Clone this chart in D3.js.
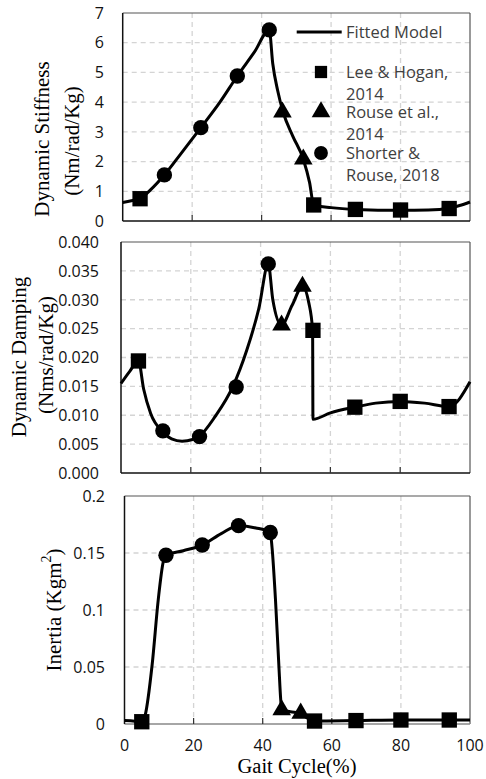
<!DOCTYPE html>
<html><head><meta charset="utf-8">
<script src="https://cdn.jsdelivr.net/npm/d3@7"></script>
<style>
body{margin:0;background:#fff}
svg{display:block}
.tick-label{font-family:"Open Sans",sans-serif;font-size:16px;fill:#111}
.axis-title{font-family:"Liberation Serif","Times New Roman",serif;font-size:21px;fill:#000}
.legend-text{font-family:"Open Sans",sans-serif;font-size:16.5px;fill:#404040}
</style>
</head><body>
<svg id="chart" width="486" height="779"></svg>
<script>
// ---- Gait-cycle positions (%) of the reference measurements ----
const leeX = [5, 55, 67, 80, 94];          // Lee & Hogan, 2014
const rouseX = [46, 52];                   // Rouse et al., 2014
const shorterX = [12, 22.5, 33, 42.2];     // Shorter & Rouse, 2018
const inertiaRouseX = [45.5, 51];

// ---- Dynamic stiffness (Nm/rad/Kg) ----
const stiffLee = [0.75, 0.54, 0.39, 0.37, 0.42];
const stiffRouse = [3.66, 2.08];
const stiffShorter = [1.55, 3.14, 4.88, 6.43];
const stiffFitX = [0, 2.5, 5, 8, 12, 17, 22.5, 28, 33, 38, 42.2, 43.2, 44.6, 46.2, 49, 52, 53.8, 55, 60, 67, 80, 88, 94, 97, 100];
const stiffFitY = [0.62, 0.68, 0.75, 1.05, 1.55, 2.3, 3.14, 4.0, 4.88, 5.7, 6.43, 5.3, 4.4, 3.66, 2.85, 2.08, 1.3, 0.54, 0.45, 0.39, 0.36, 0.37, 0.43, 0.52, 0.64];

// ---- Dynamic damping (Nms/rad/Kg) ----
const dampLee = [0.0194, 0.0247, 0.0114, 0.0124, 0.0115];
const dampRouse = [0.0256, 0.0323];
const dampShorter = [0.0073, 0.0063, 0.0149, 0.0362];
const dampFitX = [0, 2.5, 5, 6.5, 8.5, 12, 14.5, 17.5, 20.5, 22.5, 27, 32, 36, 39.5, 42.2, 43.5, 46, 49, 52, 53.8, 54.9, 55, 60, 67, 73, 80, 87, 94, 100];
const dampFitY = [0.0155, 0.0176, 0.0194, 0.0145, 0.0103, 0.0071, 0.0059, 0.0055, 0.0058, 0.0064, 0.0098, 0.0149, 0.0212, 0.0285, 0.0362, 0.030, 0.0256, 0.029, 0.0323, 0.0295, 0.0247, 0.0093, 0.0104, 0.0114, 0.0121, 0.0124, 0.0121, 0.0115, 0.0158];

// ---- Inertia (Kgm^2) ----
const inerLee = [0.002, 0.0026, 0.003, 0.0035, 0.0035];
const inerRouse = [0.0123, 0.0094];
const inerShorter = [0.148, 0.157, 0.174, 0.168];
const inerFitX = [0, 3, 5, 6, 8, 9.8, 11.2, 12, 17, 22.5, 28, 33, 38, 42.2, 42.7, 43.7, 44.7, 45.2, 45.5, 48, 51, 53, 55, 67, 80, 94, 100];
const inerFitY = [0.003, 0.0025, 0.002, 0.008, 0.052, 0.110, 0.142, 0.148, 0.152, 0.157, 0.167, 0.174, 0.172, 0.168, 0.155, 0.109, 0.05, 0.022, 0.0123, 0.0108, 0.0094, 0.005, 0.0026, 0.003, 0.0035, 0.0035, 0.0035];

// ---- Axis ticks ----
const xTicks = [0, 20, 40, 60, 80, 100];
const stiffTicks = [0, 1, 2, 3, 4, 5, 6, 7];
const dampTicks = [0, 0.005, 0.01, 0.015, 0.02, 0.025, 0.03, 0.035, 0.04];
const inerTicks = [0, 0.05, 0.1, 0.15, 0.2];
const inerTickLabels = ["0", "0.05", "0.1", "0.15", "0.2"];

// ---- Legend ----
const legendLines = [
  ["Lee & Hogan,", "2014"],
  ["Rouse et al.,", "2014"],
  ["Shorter &", "Rouse, 2018"]
];

const svg = d3.select("#chart");

function drawPanel(p) {
  const x = d3.scaleLinear().domain([0, 100]).range([p.left, p.right]);
  const y = d3.scaleLinear().domain([0, p.ymax]).range([p.bottom, p.top]);
  const g = svg.append("g");

  // dashed grid
  g.selectAll(".hg").data(p.ticks.filter(t => t > 0 && t < p.ymax)).join("line")
    .attr("x1", p.left).attr("x2", p.right)
    .attr("y1", d => y(d)).attr("y2", d => y(d))
    .attr("stroke", "#d4d4d4").attr("stroke-width", 1.3).attr("stroke-dasharray", "5,4");
  g.selectAll(".vg").data(xTicks.filter(t => t > 0 && t < 100)).join("line")
    .attr("x1", d => x(d)).attr("x2", d => x(d))
    .attr("y1", p.top).attr("y2", p.bottom)
    .attr("stroke", "#d4d4d4").attr("stroke-width", 1.3).attr("stroke-dasharray", "5,4");

  // frame
  g.append("line").attr("x1", p.left).attr("x2", p.right).attr("y1", p.top).attr("y2", p.top)
    .attr("stroke", "#555").attr("stroke-width", 1.2);
  g.append("line").attr("x1", p.right).attr("x2", p.right).attr("y1", p.top).attr("y2", p.bottom)
    .attr("stroke", "#555").attr("stroke-width", 1.2);
  g.append("line").attr("x1", p.left).attr("x2", p.right).attr("y1", p.bottom).attr("y2", p.bottom)
    .attr("stroke", p.bottomColor).attr("stroke-width", 1.5);
  g.append("line").attr("x1", p.left).attr("x2", p.left).attr("y1", p.top).attr("y2", p.bottom)
    .attr("stroke", "#111").attr("stroke-width", 1.5);

  // x tick marks (inside)
  g.selectAll(".xt").data(xTicks.filter(t => t > 0 && t < 100)).join("line")
    .attr("x1", d => x(d)).attr("x2", d => x(d))
    .attr("y1", p.bottom).attr("y2", p.bottom - 6)
    .attr("stroke", "#333").attr("stroke-width", 1.2);

  // y tick labels
  g.selectAll(".yl").data(p.ticks).join("text")
    .attr("class", "tick-label")
    .attr("x", p.labelX).attr("y", d => y(d)).attr("dy", "0.36em")
    .attr("text-anchor", "end")
    .text((d, i) => p.fmt(d, i));

  // fitted model
  const line = d3.line().x(d => x(d[0])).y(d => y(d[1])).curve(d3.curveMonotoneX);
  const fit = p.fitX.map((v, i) => [v, p.fitY[i]]);
  g.append("path").datum(fit).attr("d", line)
    .attr("fill", "none").attr("stroke", "#000").attr("stroke-width", 3)
    .attr("stroke-linejoin", "round");

  // markers
  const sq = d3.symbol().type(d3.symbolSquare).size(235);
  const tri = d3.symbol().type(d3.symbolTriangle).size(150);
  const cir = d3.symbol().type(d3.symbolCircle).size(185);
  g.selectAll(".lee").data(p.leeX.map((v, i) => [v, p.lee[i]])).join("path")
    .attr("d", sq).attr("transform", d => `translate(${x(d[0])},${y(d[1])})`).attr("fill", "#000");
  g.selectAll(".rouse").data(p.rouseX.map((v, i) => [v, p.rouse[i]])).join("path")
    .attr("d", tri).attr("transform", d => `translate(${x(d[0])},${y(d[1])})`).attr("fill", "#000");
  g.selectAll(".shorter").data(p.shorterX.map((v, i) => [v, p.shorter[i]])).join("path")
    .attr("d", cir).attr("transform", d => `translate(${x(d[0])},${y(d[1])})`).attr("fill", "#000");

  // y-axis title (one or two rotated lines)
  p.titles.forEach(t => {
    const tx = svg.append("text").attr("class", "axis-title")
      .attr("transform", `translate(${t.x},${t.y}) rotate(-90)`)
      .attr("text-anchor", "middle").attr("dominant-baseline", "central");
    t.parts.forEach(part => {
      const s = tx.append("tspan").text(part.text);
      if (part.sup) s.attr("baseline-shift", "super").attr("font-size", "14px");
    });
  });
  return x;
}

drawPanel({
  left: 122.7, right: 470, top: 13, bottom: 221, ymax: 7, ticks: stiffTicks,
  labelX: 104, fmt: d => String(d), bottomColor: "#111",
  fitX: stiffFitX, fitY: stiffFitY,
  leeX, lee: stiffLee, rouseX, rouse: stiffRouse, shorterX, shorter: stiffShorter,
  titles: [
    {x: 42, y: 139, parts: [{text: "Dynamic Stiffness"}]},
    {x: 72, y: 141, parts: [{text: "(Nm/rad/Kg)"}]}
  ]
});

drawPanel({
  left: 121, right: 470, top: 242, bottom: 473, ymax: 0.04, ticks: dampTicks,
  labelX: 99, fmt: d => d.toFixed(3), bottomColor: "#111",
  fitX: dampFitX, fitY: dampFitY,
  leeX, lee: dampLee, rouseX, rouse: dampRouse, shorterX, shorter: dampShorter,
  titles: [
    {x: 19, y: 357, parts: [{text: "Dynamic Damping"}]},
    {x: 46, y: 355, parts: [{text: "(Nms/rad/Kg)"}]}
  ]
});

const xBottom = drawPanel({
  left: 124.5, right: 470, top: 496, bottom: 724, ymax: 0.2, ticks: inerTicks,
  labelX: 105, fmt: (d, i) => inerTickLabels[i], bottomColor: "#888",
  fitX: inerFitX, fitY: inerFitY,
  leeX, lee: inerLee, rouseX: inertiaRouseX, rouse: inerRouse, shorterX, shorter: inerShorter,
  titles: [
    {x: 54, y: 610, parts: [{text: "Inertia (Kgm"}, {text: "2", sup: true}, {text: ")"}]}
  ]
});

// x tick labels under the bottom panel
svg.selectAll(".xl").data(xTicks).join("text")
  .attr("class", "tick-label")
  .attr("x", d => xBottom(d)).attr("y", 745).attr("dy", "0.36em")
  .attr("text-anchor", "middle").text(d => d);

svg.append("text").attr("class", "axis-title")
  .attr("x", 297).attr("y", 773).attr("text-anchor", "middle")
  .style("font-size", "20.5px")
  .text("Gait Cycle(%)");

// legend in the stiffness panel
const lg = svg.append("g");
lg.append("line").attr("x1", 296.7).attr("x2", 341.7).attr("y1", 32).attr("y2", 32)
  .attr("stroke", "#000").attr("stroke-width", 3);
lg.append("text").attr("class", "legend-text").attr("x", 346).attr("y", 37.5).text("Fitted Model");
const legendSymbols = [d3.symbolSquare, d3.symbolTriangle, d3.symbolCircle];
const legendY = [72, 112, 153];
const legendBase = [78, 118, 159];
legendLines.forEach((lines, i) => {
  lg.append("path").attr("d", d3.symbol().type(legendSymbols[i]).size(150))
    .attr("transform", `translate(321,${legendY[i]})`).attr("fill", "#000");
});
// wrapped series labels set as one text block
const block = lg.append("text").attr("class", "legend-text").attr("x", 346).attr("y", legendBase[0]);
legendLines.forEach((lines, i) => {
  lines.forEach((s, j) => {
    const yy = legendBase[i] + j * 21.5;
    block.append("tspan").attr("x", 346).attr("y", yy).text(s);
  });
});
</script>
</body></html>
